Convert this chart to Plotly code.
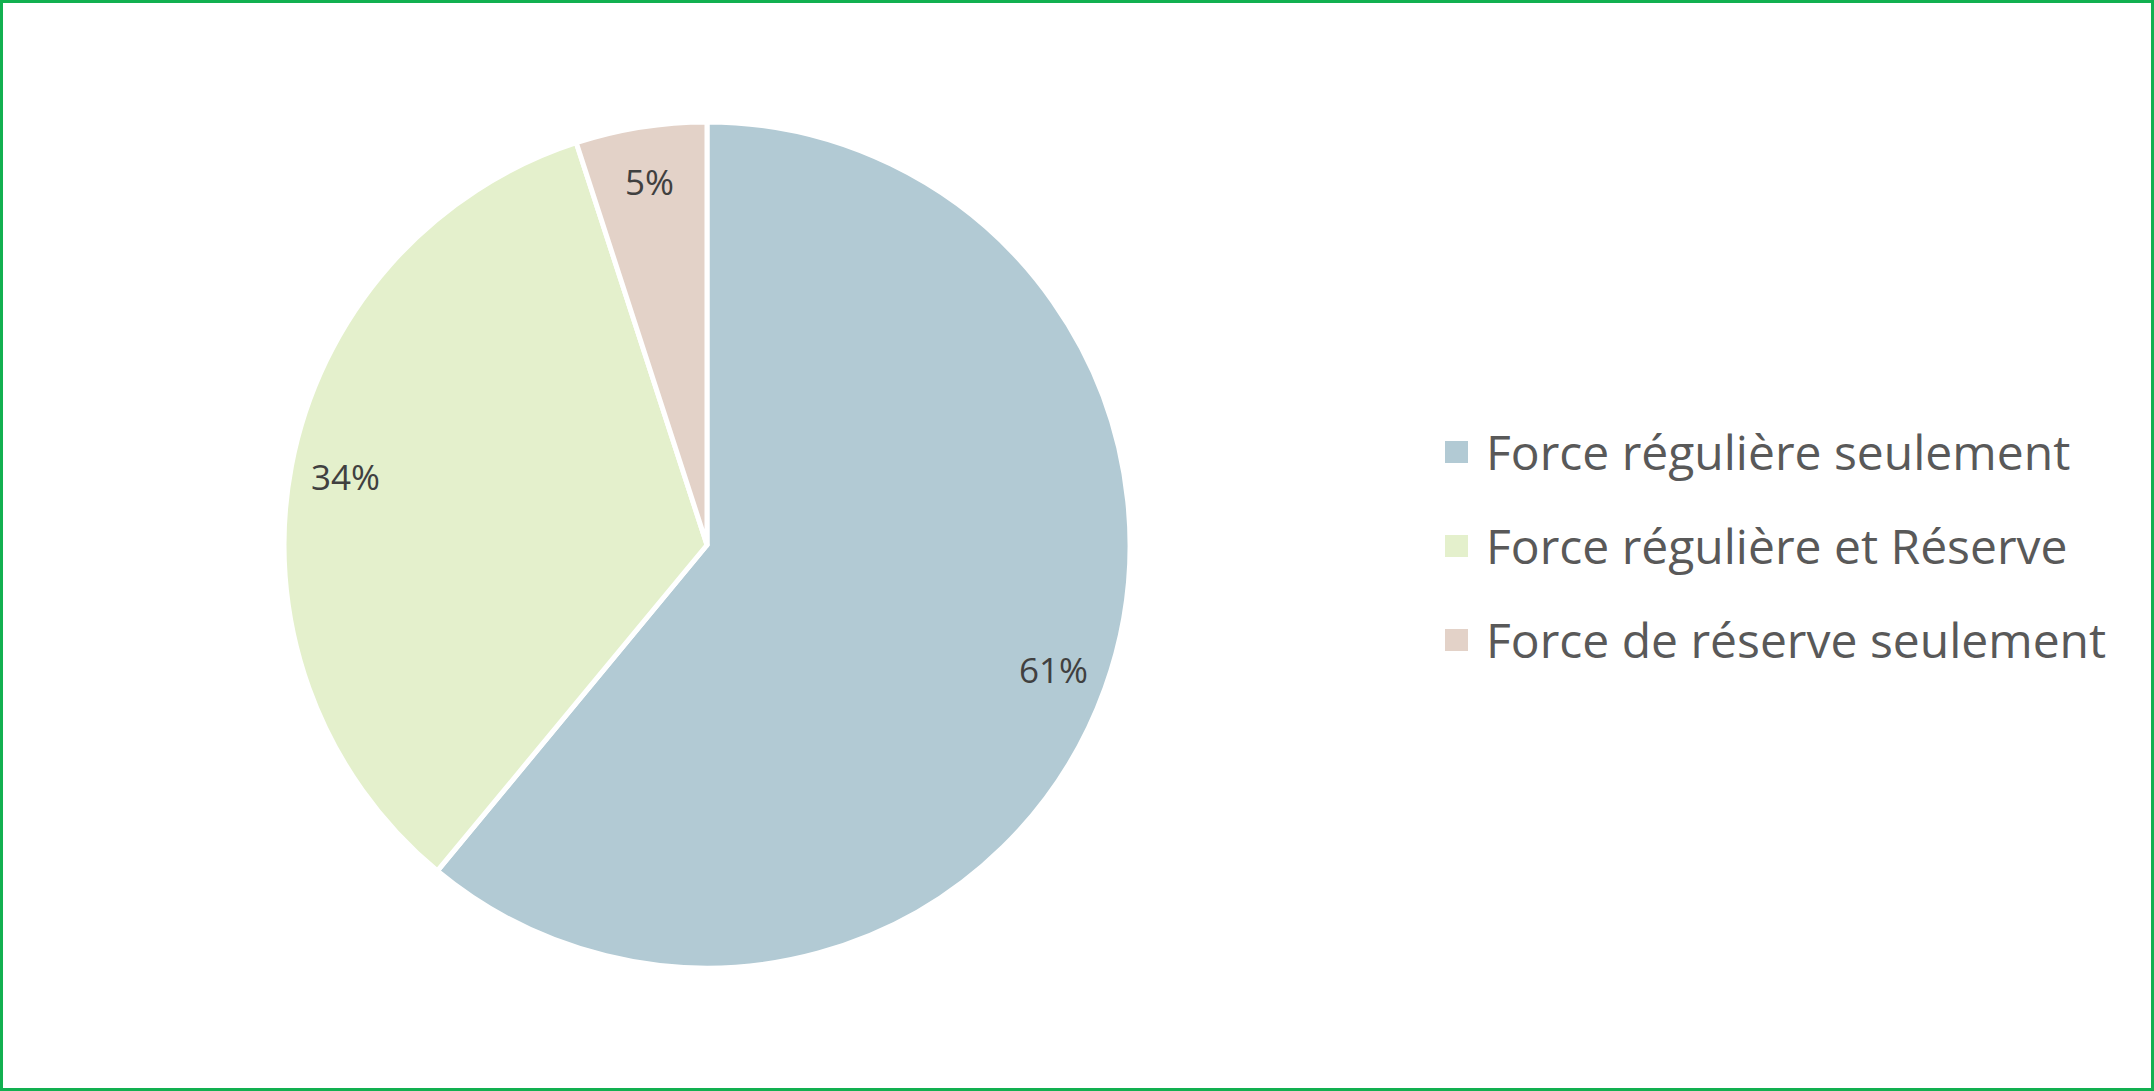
import math
import plotly.graph_objects as go

labels = ["Force régulière seulement", "Force régulière et Réserve", "Force de réserve seulement"]
values = [61, 34, 5]
colors = ["#B2CAD4", "#E4F0CC", "#E3D2C8"]

W, H = 2154, 1091
cx, cy, R = 707, 545, 423

fig = go.Figure()
fig.add_trace(go.Pie(
    labels=labels,
    values=values,
    sort=False,
    direction="clockwise",
    rotation=0,
    marker=dict(colors=colors, line=dict(color="white", width=5)),
    textinfo="none",
    domain=dict(x=[(cx - R) / W, (cx + R) / W], y=[1 - (cy + R) / H, 1 - (cy - R) / H]),
    showlegend=False,
    hoverinfo="label+percent",
))

annotations = []
shapes = []

# percentage labels placed along each slice's bisector
total = sum(values)
cum = 0
for v in values:
    mid = (cum + v / 2) / total * 2 * math.pi
    cum += v
    r = 0.87 * R
    px = cx + r * math.sin(mid)
    py = cy - r * math.cos(mid)
    annotations.append(dict(text=f"{round(v / total * 100)}%", xref="paper", yref="paper",
                            x=px / W, y=1 - py / H, xanchor="center", yanchor="middle",
                            showarrow=False,
                            font=dict(family="Open Sans", size=35, color="#404040")))

# legend drawn from the same label/colour lists
leg_y = [452, 546, 640]
for lab, col, yc in zip(labels, colors, leg_y):
    shapes.append(dict(type="rect", xref="paper", yref="paper",
                       x0=1445 / W, x1=1468 / W,
                       y0=1 - (yc + 11) / H, y1=1 - (yc - 11) / H,
                       fillcolor=col, line=dict(width=0)))
    annotations.append(dict(text=lab, xref="paper", yref="paper",
                            x=1484 / W, y=1 - (yc - 1) / H, xanchor="left", yanchor="middle",
                            showarrow=False,
                            font=dict(family="Open Sans", size=48, color="#595959")))

# green frame
shapes.append(dict(type="rect", xref="paper", yref="paper", x0=0.0007, x1=0.9993, y0=0.0014, y1=0.9986,
                   line=dict(color="#12B050", width=3), fillcolor="rgba(0,0,0,0)"))

fig.update_layout(
    width=W, height=H,
    margin=dict(l=0, r=0, t=0, b=0),
    paper_bgcolor="white",
    plot_bgcolor="white",
    shapes=shapes,
    annotations=annotations,
)

fig.write_html("out.html", config={"displayModeBar": False},
               post_script="document.body.style.margin='0';document.body.style.overflow='hidden';")
